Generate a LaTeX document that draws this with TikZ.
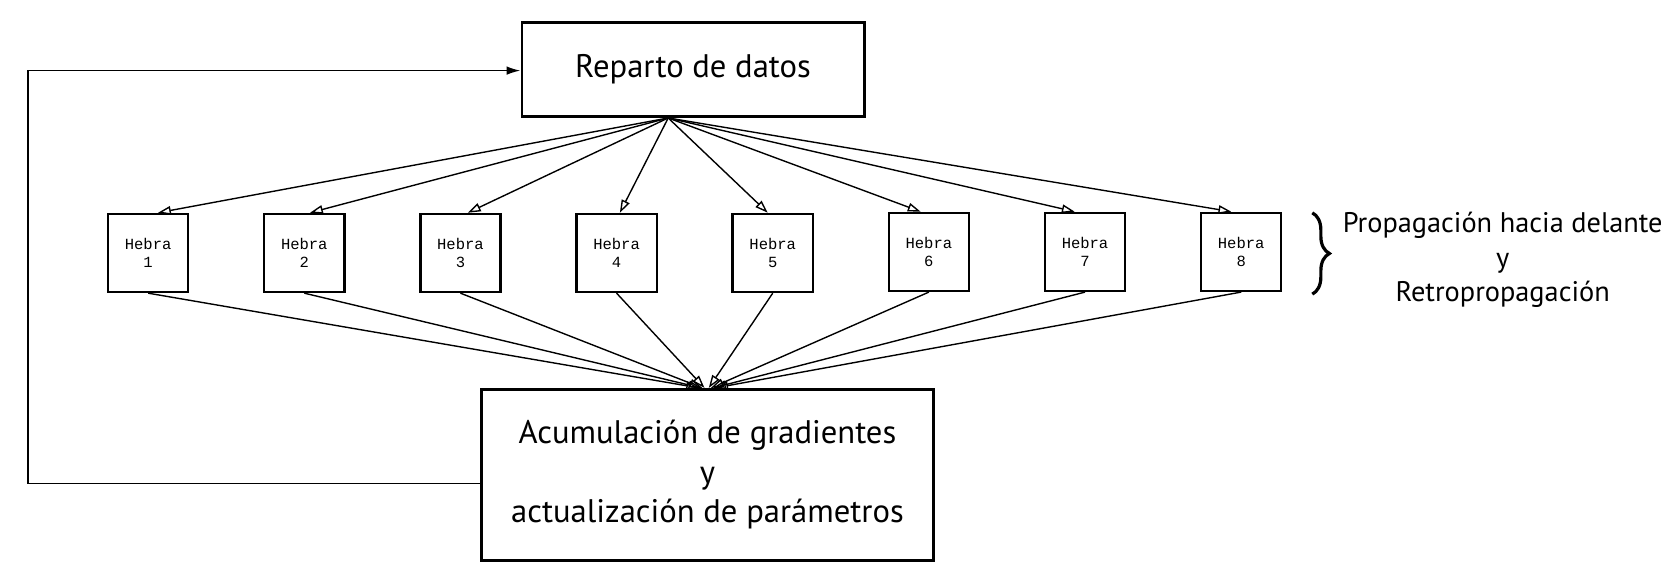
\documentclass[tikz,border=0pt]{standalone}
\usepackage{fontspec}
\setmainfont{PT Sans}
\newfontfamily\monof{Liberation Mono}
\usetikzlibrary{arrows.meta,calc,decorations.pathreplacing}
\begin{document}
\begin{tikzpicture}[x=1pt,y=-1pt,
  bigbox/.style={draw, line width=2.6pt, align=center, inner sep=0pt},
  hebrabox/.style={draw, line width=2.2pt, minimum width=75pt, minimum height=73pt,
    align=center, inner sep=0pt, font=\monof\fontsize{14.5}{17}\selectfont},
  openarrow/.style={line width=1.3pt, -{Triangle[open, length=12pt, width=8pt]}},
  fillarrow/.style={line width=1.5pt, -{Latex[length=13pt, width=8pt]}},
  bigtext/.style={font=\fontsize{30.5}{37}\selectfont},
]
\useasboundingbox (0,0) rectangle (1568,542);

\node[bigbox, bigtext, minimum width=320pt, minimum height=88pt] (rep) at (648,65) {Reparto de datos};
\node[bigbox, bigtext, minimum width=423pt, minimum height=160pt] (acc) at (661.5,444)
  {Acumulación de gradientes\\y\\actualización de parámetros};

\coordinate (rs) at ($(rep.south west)!0.428!(rep.south east)$);

\foreach \i/\yy/\f/\dx in {1/236.5/0.62/205, 2/236.5/0.57/207, 3/236.5/0.59/208, 4/236.5/0.54/210,
                          5/236.5/0.44/214, 6/235.5/0.40/216, 7/235.5/0.375/218, 8/235.5/0.38/220}{
  \node[hebrabox] (h\i) at ({138.5+146*(\i-1)},\yy) {Hebra\\\i};
  \draw[openarrow] (rs) -- ($(h\i.north west)!\f!(h\i.north east)$);
  \draw[openarrow] (h\i.south) -- ($(acc.north west)+(\dx,0)$);
}

\coordinate (fbl) at (26,452);
\coordinate (fbt) at (26,66);
\draw[fillarrow] (acc.west |- fbl) -- (fbl) -- (fbt) -- (rep.west |- fbt);

\draw[decorate, decoration={brace, amplitude=16pt}, line width=3pt] (1227,199) -- (1227,275);
\node[align=center, font=\fontsize{26.5}{32.5}\selectfont] (prop) at (1405,243)
  {Propagación hacia delante\\y\\Retropropagación};
\end{tikzpicture}
\end{document}
